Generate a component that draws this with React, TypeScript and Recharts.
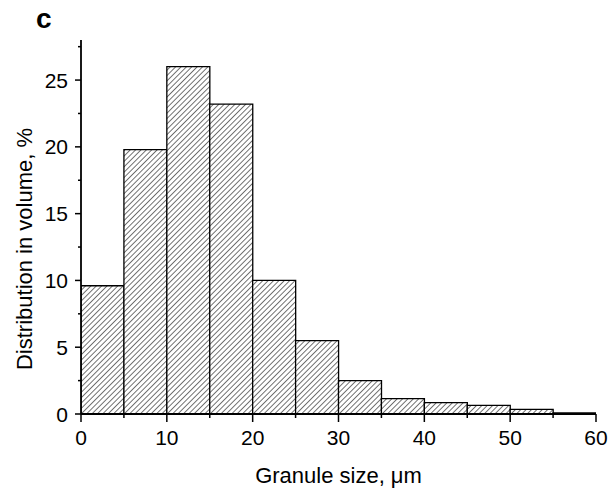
import React from 'react';
import { ComposedChart, Bar, XAxis, YAxis, Label } from 'recharts';

const binCenters = [2.5, 7.5, 12.5, 17.5, 22.5, 27.5, 32.5, 37.5, 42.5, 47.5, 52.5, 57.5];
const volumePct = [9.6, 19.8, 26.0, 23.2, 10.0, 5.5, 2.5, 1.15, 0.85, 0.65, 0.35, 0.08];
const xTicks = [0, 5, 10, 15, 20, 25, 30, 35, 40, 45, 50, 55, 60];
const xLabelTicks = [0, 10, 20, 30, 40, 50, 60];
const yTicks = [0, 2.5, 5, 7.5, 10, 12.5, 15, 17.5, 20, 22.5, 25, 27.5];
const yLabelTicks = [0, 5, 10, 15, 20, 25];

const data = binCenters.map((c, i) => ({ size: c, value: volumePct[i] }));

const FONT = "'Liberation Sans', Arial, Helvetica, sans-serif";

const XTick = (props: any) => {
  const { x, y, payload } = props;
  const major = xLabelTicks.includes(payload.value);
  return (
    <g>
      <line x1={x} x2={x} y1={y} y2={y + (major ? 8 : 4)} stroke="#000" strokeWidth={1.5} />
      {major && (
        <text x={x} y={y + 31} textAnchor="middle" fontSize={21} fontFamily={FONT} fill="#000">
          {payload.value}
        </text>
      )}
    </g>
  );
};

const YTick = (props: any) => {
  const { x, y, payload } = props;
  const major = yLabelTicks.includes(payload.value);
  return (
    <g>
      <line x1={x} x2={x - (major ? 6 : 3)} y1={y} y2={y} stroke="#000" strokeWidth={1.5} />
      {major && (
        <text x={x - 13} y={y + 7.5} textAnchor="end" fontSize={21} fontFamily={FONT} fill="#000">
          {payload.value}
        </text>
      )}
    </g>
  );
};

export default function App() {
  return (
    <div style={{ position: 'absolute', left: 0, top: 0, width: 608, height: 492, background: '#fff' }}>
      <svg width={0} height={0} style={{ position: 'absolute' }}>
        <defs>
          <pattern id="hatch" patternUnits="userSpaceOnUse" width={3.8} height={3.8} patternTransform="rotate(45)">
            <rect width={3.8} height={3.8} fill="#fff" />
            <line x1={0} y1={0} x2={0} y2={3.8} stroke="#000" strokeWidth={1.1} />
          </pattern>
        </defs>
      </svg>
      <div
        style={{
          position: 'absolute',
          left: 36,
          top: 5,
          fontFamily: FONT,
          fontWeight: 'bold',
          fontSize: 28,
          lineHeight: '28px',
          color: '#000',
        }}
      >
        c
      </div>
      <ComposedChart
        width={608}
        height={492}
        data={data}
        margin={{ top: 40, right: 12, bottom: 0, left: 0 }}
        barCategoryGap={0}
        barGap={0}
      >
        <XAxis
          dataKey="size"
          type="number"
          domain={[0, 60]}
          ticks={xTicks}
          interval={0}
          allowDataOverflow
          height={78}
          tickSize={0}
          tickMargin={0}
          tickLine={false}
          axisLine={{ stroke: '#000', strokeWidth: 1.8 }}
          tick={<XTick />}
        >
          <Label
            content={(p: any) => {
              const vb = p.viewBox || { x: 81, y: 414, width: 515 };
              return (
                <text x={vb.x + vb.width / 2} y={vb.y + 69} textAnchor="middle" fontSize={22} fontFamily={FONT} fill="#000">
                  Granule size, μm
                </text>
              );
            }}
          />
        </XAxis>
        <YAxis
          type="number"
          domain={[0, 28]}
          ticks={yTicks}
          interval={0}
          allowDataOverflow
          width={81}
          tickSize={0}
          tickMargin={0}
          tickLine={false}
          axisLine={{ stroke: '#000', strokeWidth: 1.8 }}
          tick={<YTick />}
        >
          <Label
            content={(p: any) => {
              const vb = p.viewBox || { x: 0, y: 40, height: 374 };
              const cx = 32;
              const cy = vb.y + vb.height / 2 + 22;
              return (
                <text
                  x={cx}
                  y={cy}
                  transform={`rotate(-90 ${cx} ${cy})`}
                  textAnchor="middle"
                  fontSize={22}
                  fontFamily={FONT}
                  fill="#000"
                >
                  Distribution in volume, %
                </text>
              );
            }}
          />
        </YAxis>
        <Bar
          dataKey="value"
          fill="url(#hatch)"
          stroke="#000"
          strokeWidth={1.3}
          isAnimationActive={false}
        />
      </ComposedChart>
    </div>
  );
}
